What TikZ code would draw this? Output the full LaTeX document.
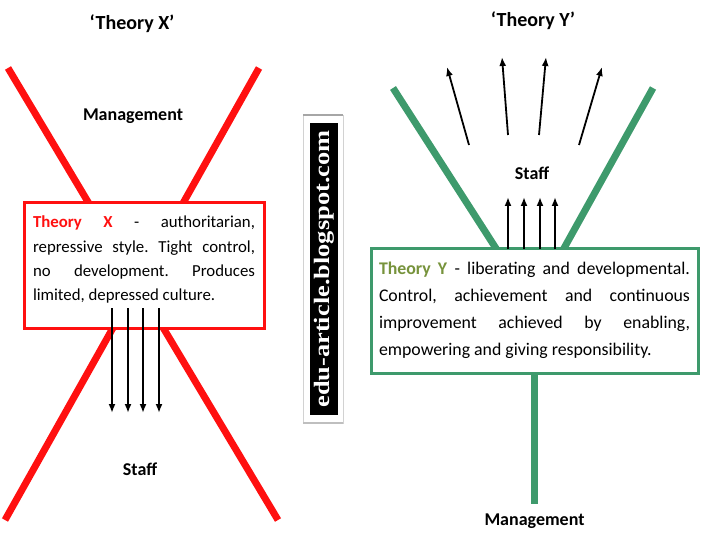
\documentclass[tikz,border=0pt]{standalone}
\usepackage{fontspec}
\setmainfont{Carlito}
\newfontfamily\markfont{Liberation Serif}
\usepackage{xcolor}
\usetikzlibrary{arrows.meta}
\definecolor{xred}{HTML}{FF1010}
\definecolor{ygreen}{HTML}{3E9A6C}
\definecolor{yolive}{HTML}{77933C}
\frenchspacing

\begin{document}
\begin{tikzpicture}[x=1pt,y=-1pt,
 ttl/.style={font=\fontsize{20}{24}\selectfont\bfseries},
 lbl/.style={font=\fontsize{18}{21}\selectfont\bfseries},
 bx/.style={draw,fill=white,line width=3pt,align=justify,inner xsep=9pt,minimum height=125pt},
 xline/.style={xred,line width=7pt},
 yline/.style={ygreen,line width=7pt},
 ar/.style={-{Latex[length=9pt,width=7pt]},line width=1.8pt}]
\useasboundingbox (0,0) rectangle (720,540);
% Theory X
\node[ttl] (xtitle) at (132,24) {‘Theory X’};
\draw[xline] (8,68) -- (278,520);
\draw[xline] (259,68) -- (5,520);
\node[lbl] (xtop) at (133,116) {Management};
\node[bx,draw=xred,text width=222pt,font=\fontsize{16.8}{24.3}\selectfont] (xbox) at (144,265.5)
 {\textcolor{xred}{\bfseries Theory X} - authoritarian,\linebreak repressive style. Tight control,\linebreak no development. Produces\linebreak limited, depressed culture.\\[-10pt]\mbox{}};
\foreach \x in {112,128,143,159}
 \draw[ar] (\x,308) -- (\x,413);
\node[lbl] (xbot) at (140,469) {Staff};
% watermark
\draw[gray!35,line width=0.8pt] (303,115) rectangle (343,423);
\draw[gray!70,line width=2.5pt] (303,115) -- (343,115);
\draw[gray!50,line width=2.5pt] (303,423) -- (343,423);
\node[fill=black,text=white,rotate=90,minimum width=292pt,minimum height=28pt,inner sep=0pt,
 font=\markfont\fontsize{22}{24}\selectfont\bfseries] (mark) at (324,269) {\scalebox{1.2}[1]{edu-article.blogspot.com}};
% Theory Y
\node[ttl] (ytitle) at (533,21) {‘Theory Y’};
\draw[yline] (393,88) -- (497,250);
\draw[yline] (653,88) -- (563,250);
\node[bx,draw=ygreen,text width=311pt,inner xsep=8pt,font=\fontsize{17.8}{27}\selectfont] (ybox) at (534.5,310.5)
 {\textcolor{yolive}{\bfseries Theory Y} - liberating and developmental.\linebreak Control, achievement and continuous\linebreak improvement achieved by enabling,\linebreak empowering and giving responsibility.};
\foreach \x in {508,524,540,555}
 \draw[ar] (\x,249) -- (\x,197);
\foreach \a/\b in {{469,145}/{447,67},{508,135}/{502,57},{539,135}/{546,57},{579,145}/{602,67}}
 \draw[ar] (\a) -- (\b);
\node[lbl] (ymid) at (532,173) {Staff};
\draw[yline] (ybox.south) -- ++(0,129) coordinate (yend);
\node[lbl,below=7pt] (ybot) at (yend) {Management};
\end{tikzpicture}
\end{document}
